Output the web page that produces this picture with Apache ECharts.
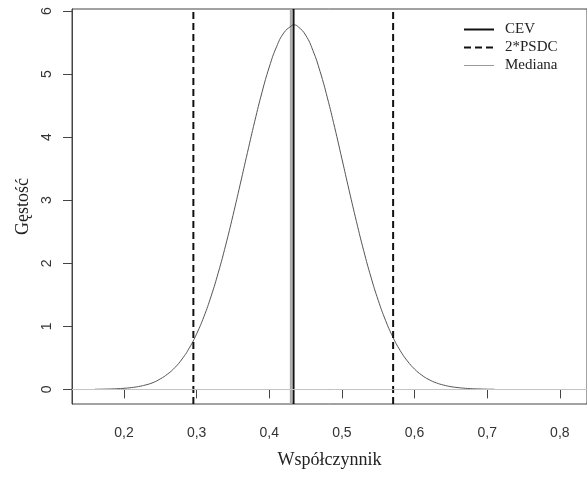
<!DOCTYPE html>
<html>
<head>
<meta charset="utf-8">
<script src="https://cdn.jsdelivr.net/npm/echarts@6/dist/echarts.min.js"></script>
<style>
  html, body { margin: 0; padding: 0; background: #fff; }
  #chart { width: 587px; height: 477px; }
</style>
</head>
<body>
<div id="chart"></div>
<script>
// density curve
var xs = [0.16, 0.17, 0.18, 0.19, 0.20, 0.21, 0.22, 0.23, 0.24, 0.25, 0.26, 0.27, 0.28, 0.29,
          0.30, 0.31, 0.32, 0.33, 0.34, 0.35, 0.36, 0.37, 0.38, 0.39, 0.40, 0.41, 0.42, 0.43,
          0.434, 0.44, 0.45, 0.46, 0.47, 0.48, 0.49, 0.50, 0.51, 0.52, 0.53, 0.54, 0.55, 0.56,
          0.57, 0.58, 0.59, 0.60, 0.61, 0.62, 0.63, 0.64, 0.65, 0.66, 0.67, 0.68, 0.69, 0.70, 0.71];
var density = [0.002, 0.003, 0.006, 0.010, 0.017, 0.028, 0.045, 0.071, 0.108, 0.166, 0.243, 0.345, 0.482, 0.658,
               0.881, 1.154, 1.481, 1.860, 2.288, 2.758, 3.254, 3.758, 4.252, 4.712, 5.112, 5.433, 5.653, 5.761,
               5.78, 5.748, 5.618, 5.376, 5.038, 4.623, 4.155, 3.656, 3.152, 2.661, 2.199, 1.780, 1.412, 1.096,
               0.833, 0.620, 0.452, 0.322, 0.225, 0.154, 0.103, 0.068, 0.043, 0.028, 0.017, 0.010, 0.006, 0.003, 0.002];

var cev = 0.4334;
var psdc = [0.2955, 0.5705];
var mediana = 0.4297;

var xTicks = [0.2, 0.3, 0.4, 0.5, 0.6, 0.7, 0.8];
var yTicks = [0, 1, 2, 3, 4, 5, 6];
var yRange = [-0.232, 6.032];

var dom = document.getElementById('chart');
var myChart = echarts.init(dom);

function vline(x) {
    return [[x, yRange[0]], [x, yRange[1]]];
}

var curve = xs.map(function (x, i) { return [x, density[i]]; });

var option = {
    animation: false,
    backgroundColor: '#fff',
    grid: {
        left: 72,
        right: -10,
        top: 9,
        bottom: 73,
        show: true,
        borderColor: '#444',
        borderWidth: 1
    },
    legend: {
        orient: 'vertical',
        left: 458,
        top: 17,
        itemWidth: 30,
        itemHeight: 14,
        itemGap: 3,
        itemStyle: { opacity: 0 },
        data: ['CEV', '2*PSDC', { name: 'Mediana', lineStyle: { width: 1, color: '#999' } }],
        textStyle: { fontFamily: 'Liberation Serif', fontSize: 15, color: '#222', padding: [0, 0, 0, 6] }
    },
    xAxis: {
        type: 'value',
        min: 0.1284,
        max: 0.8374,
        name: 'Współczynnik',
        nameLocation: 'middle',
        nameGap: 47,
        nameTextStyle: { fontFamily: 'Liberation Serif', fontSize: 18, color: '#222' },
        axisLine: { show: true, lineStyle: { color: '#444' } },
        axisTick: { show: true, length: 9, customValues: xTicks, lineStyle: { color: '#444' } },
        axisLabel: {
            customValues: xTicks,
            margin: 22,
            fontFamily: 'Liberation Sans',
            fontSize: 14,
            color: '#333',
            formatter: function (v) { return v.toFixed(1).replace('.', ','); }
        },
        splitLine: { show: false }
    },
    yAxis: {
        type: 'value',
        min: yRange[0],
        max: yRange[1],
        name: 'Gęstość',
        nameLocation: 'middle',
        nameGap: 40,
        nameTextStyle: { fontFamily: 'Liberation Serif', fontSize: 18, color: '#222' },
        axisLine: { show: true, lineStyle: { color: '#444' } },
        axisTick: { show: true, length: 9, customValues: yTicks, lineStyle: { color: '#444' } },
        axisLabel: {
            customValues: yTicks,
            rotate: 90,
            margin: 18,
            fontFamily: 'Liberation Sans',
            fontSize: 14,
            color: '#333'
        },
        splitLine: { show: false }
    },
    series: [
        {
            name: 'density',
            type: 'line',
            data: curve,
            symbol: 'none',
            smooth: true,
            z: 3,
            lineStyle: { color: '#555', width: 1 },
            markLine: {
                silent: true,
                symbol: 'none',
                label: { show: false },
                lineStyle: { color: '#c4c4c4', width: 1, type: 'solid' },
                data: [{ yAxis: 0 }]
            }
        },
        {
            name: 'Mediana',
            type: 'line',
            data: vline(mediana),
            symbol: 'none',
            z: 2,
            lineStyle: { color: '#a8a8a8', width: 2 }
        },
        {
            name: 'CEV',
            type: 'line',
            data: vline(cev),
            symbol: 'none',
            z: 4,
            lineStyle: { color: '#111', width: 2 }
        },
        {
            name: '2*PSDC',
            type: 'line',
            data: vline(psdc[0]),
            symbol: 'none',
            z: 4,
            lineStyle: { color: '#111', width: 2, type: [7, 4] }
        },
        {
            name: '2*PSDC',
            type: 'line',
            data: vline(psdc[1]),
            symbol: 'none',
            z: 4,
            lineStyle: { color: '#111', width: 2, type: [7, 4] }
        }
    ]
};

myChart.setOption(option, true);
</script>
</body>
</html>
